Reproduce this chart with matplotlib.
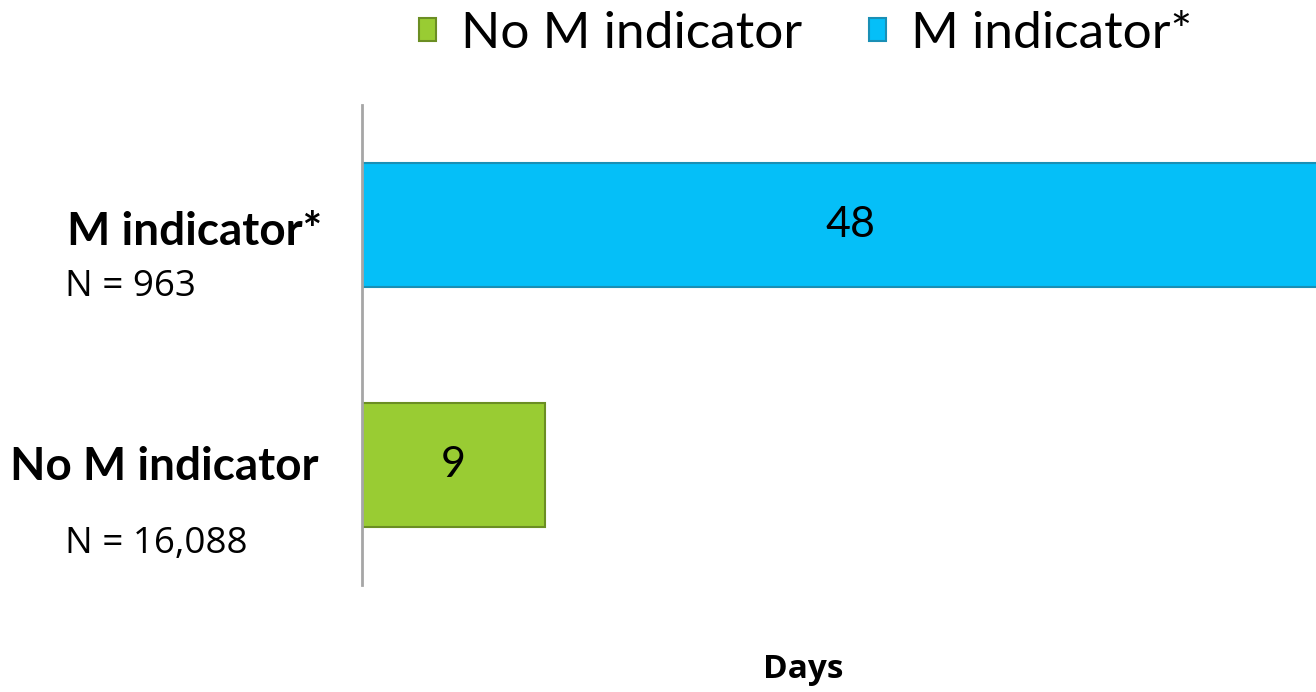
import matplotlib
matplotlib.use('Agg')
from matplotlib import pyplot

categories = ['No M indicator', 'M indicator*']
days = [9, 48]
counts = ['N = 16,088', 'N = 963']
colors = ['#99CC33', '#05BFF8']
edges = ['#6B8E23', '#1A8FB5']

fig = pyplot.figure(figsize=(13.16, 6.92), dpi=100)
ax = fig.add_axes([362 / 1316, 107 / 692, 954 / 1316, 480 / 692])

for i, (cat, val) in enumerate(zip(categories, days)):
    ax.barh(i, val, height=0.515, color=colors[i], edgecolor=edges[i],
            linewidth=1.5, label=cat)
    ax.text(val / 2, i, str(val), ha='center', va='center',
            fontsize=31, family='Lato')

ax.set_xlim(0, 46.9)
ax.set_ylim(-0.5, 1.5)
for side in ['top', 'right', 'bottom']:
    ax.spines[side].set_visible(False)
ax.spines['left'].set_color('#A6A6A6')
ax.spines['left'].set_linewidth(2)
ax.set_xticks([])
ax.set_yticks([])

# category labels with counts underneath
px = 46.9 / 954
ax.text(-40 * px, 0.97, categories[1], ha='right', va='center', fontsize=33,
        fontweight='bold', family='Lato')
ax.text(-297 * px, 0.74, counts[1], ha='left', va='center', fontsize=26.5,
        family='Open Sans')
ax.text(-44 * px, -0.01, categories[0], ha='right', va='center', fontsize=33,
        fontweight='bold', family='Lato')
ax.text(-297 * px, -0.33, counts[0], ha='left', va='center', fontsize=26.5,
        family='Open Sans')

fig.text(803 / 1316, 1 - 670 / 692, 'Days', ha='center', va='center', fontsize=24,
         fontweight='bold', family='Open Sans')

leg = fig.legend(loc='center', bbox_to_anchor=(806 / 1316, 1 - 34 / 692), ncol=2,
                 frameon=False, handlelength=0.32, handleheight=0.32,
                 handletextpad=0.5, columnspacing=1.3, prop={'family': 'Lato', 'size': 37})

pyplot.savefig('out.png', dpi=100)
